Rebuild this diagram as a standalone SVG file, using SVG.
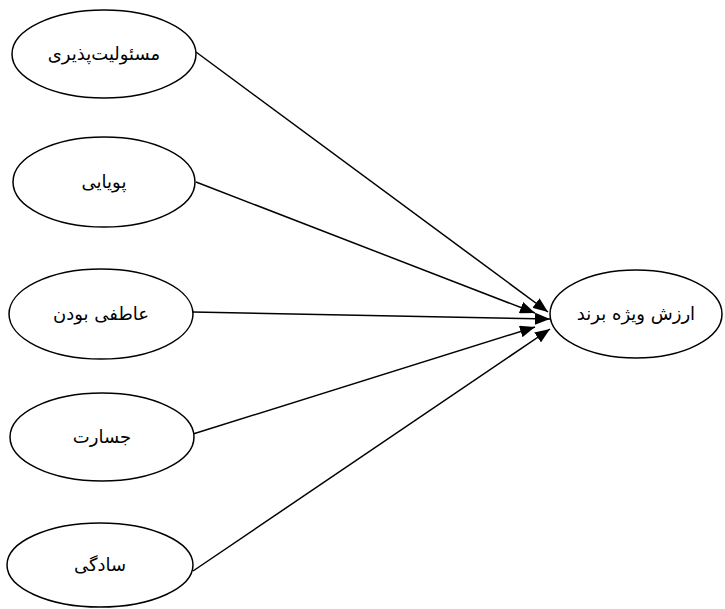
<svg xmlns="http://www.w3.org/2000/svg" width="725" height="609" viewBox="0 0 725 609">
<style>
.n{fill:#fff;stroke:#000;stroke-width:1.5}
.t{font-family:"DejaVu Sans","Noto Sans",sans-serif;font-size:18px;fill:#000;text-anchor:middle;direction:rtl}
.c{stroke:#000;stroke-width:1.5;fill:none;marker-end:url(#ah)}
</style>
<defs>
<marker id="ah" markerUnits="userSpaceOnUse" markerWidth="16" markerHeight="12" refX="15" refY="6" orient="auto">
<path d="M0,0 L15,6 L0,12 Z" fill="#000"/>
</marker>
</defs>
<g id="connectors">
<line class="c" x1="196" y1="52" x2="548" y2="312"/>
<line class="c" x1="196" y1="182" x2="535" y2="313"/>
<line class="c" x1="193" y1="312" x2="550" y2="319"/>
<line class="c" x1="193" y1="434" x2="535" y2="327"/>
<line class="c" x1="193" y1="571" x2="550" y2="329"/>
</g>
<g id="n1"><ellipse class="n" cx="104" cy="54" rx="92" ry="44"/><text class="t" x="104" y="60">مسئولیت‌پذیری</text></g>
<g id="n2"><ellipse class="n" cx="104" cy="182" rx="91" ry="45"/><text class="t" x="104" y="188">پویایی</text></g>
<g id="n3"><ellipse class="n" cx="101" cy="314" rx="92" ry="45"/><text class="t" x="101" y="320">عاطفی بودن</text></g>
<g id="n4"><ellipse class="n" cx="102" cy="437" rx="92" ry="44"/><text class="t" x="102" y="443">جسارت</text></g>
<g id="n5"><ellipse class="n" cx="100" cy="565" rx="93" ry="42"/><text class="t" x="100" y="571">سادگی</text></g>
<g id="target"><ellipse class="n" cx="636" cy="314" rx="86" ry="44"/><text class="t" x="636" y="320">ارزش ویژه برند</text></g>
</svg>
